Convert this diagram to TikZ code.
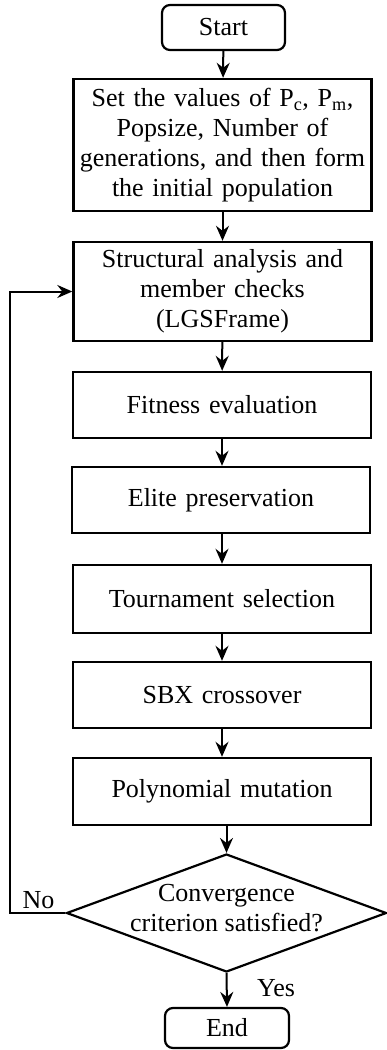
\documentclass[tikz,border=0pt]{standalone}
\usepackage{fontspec}
\setmainfont{Liberation Serif}
\usetikzlibrary{shapes.geometric,arrows.meta}
\begin{document}
\begin{tikzpicture}[x=1pt,y=-1pt,
  font=\fontsize{26}{30}\selectfont,
  box/.style={draw, line width=2.4pt, align=center, text width=290pt, inner xsep=4pt, inner ysep=0pt},
  term/.style={draw, line width=2.2pt, rounded corners=8pt, inner sep=0pt},
  arr/.style={line width=2pt, -{Stealth[length=15pt,width=13pt,inset=5pt]}},
  dia/.style={draw, diamond, line width=2.2pt, inner sep=0pt}]
\fill[white] (0,0) rectangle (386,1050);
\useasboundingbox (0,0) rectangle (386,1050);
\node[term, minimum width=123pt, minimum height=45pt] (start) at (223.5,27.5) {Start};
\node[box, minimum height=132pt] (set) at (222.5,145) {Set the values of P\textsubscript{c}, P\textsubscript{m},\\ Popsize, Number of\\ generations, and then form\\ the initial population};
\node[box, minimum height=99pt] (struct) at (222.5,291.5) {Structural analysis and\\ member checks\\ (LGSFrame)};
\node[box, minimum height=66pt] (fit) at (222,405) {Fitness evaluation};
\node[box, minimum height=66pt] (elite) at (221,500) {Elite preservation};
\node[box, minimum height=68pt] (tour) at (222,599) {Tournament selection};
\node[box, minimum height=66pt] (sbx) at (222,695) {SBX crossover};
\node[box, minimum height=67pt] (poly) at (222,791.5) {Polynomial mutation};
\node[dia, minimum width=320pt, minimum height=118pt,
  label={[align=center, yshift=5pt]center:Convergence\\ criterion satisfied?}] (dec) at (226.5,913) {};
\node[term, minimum width=124pt, minimum height=40pt] (end) at (227,1028) {End};
\coordinate (loop) at (10,913);
\node (no) at (38.5,900) {No};
\node (yes) at (276,988) {Yes};
\draw[arr] (start) -- (set);
\draw[arr] (set) -- (struct);
\draw[arr] (struct) -- (fit);
\draw[arr] (fit) -- (elite.north -| fit.south);
\draw[arr] (elite.south -| tour.north) -- (tour);
\draw[arr] (tour) -- (sbx);
\draw[arr] (sbx) -- (poly);
\draw[arr] (poly.south -| dec.north) -- (dec.north);
\draw[arr] (dec.south) -- (end.north);
\draw[arr] (dec.west) -- (loop) |- (struct.west);
\end{tikzpicture}
\end{document}
